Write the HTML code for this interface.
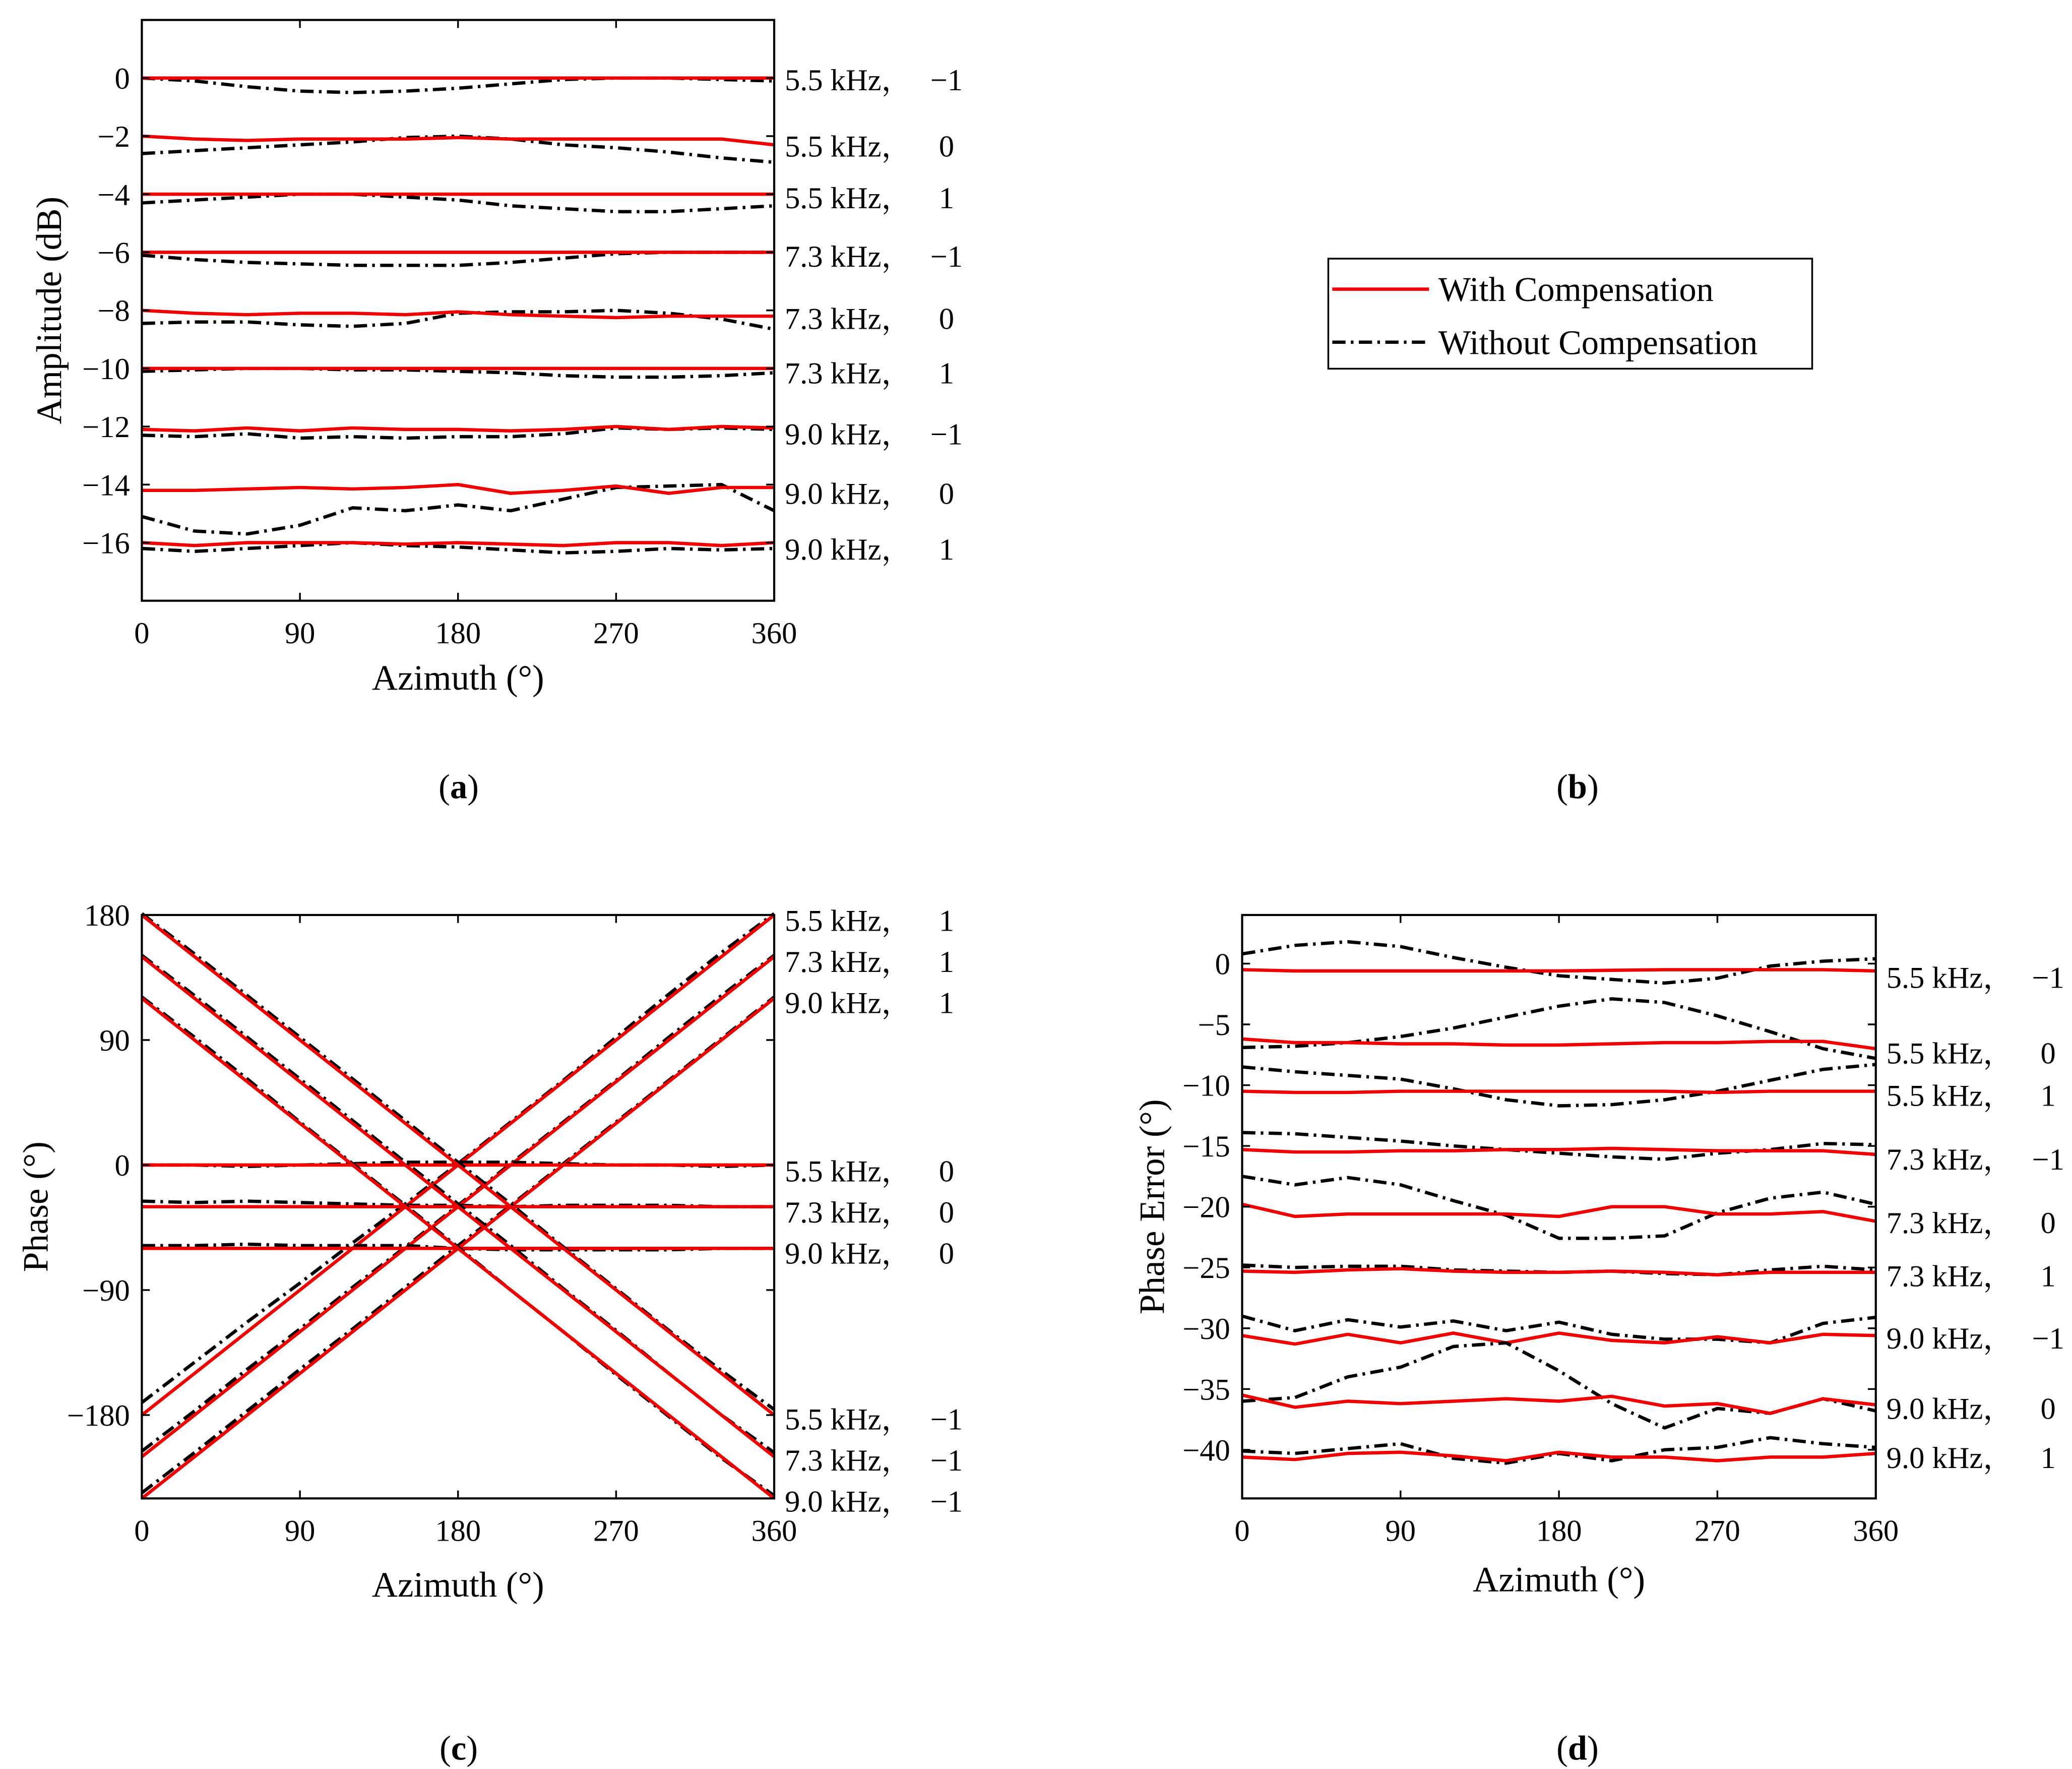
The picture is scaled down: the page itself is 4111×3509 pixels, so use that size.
<!DOCTYPE html>
<html><head><meta charset="utf-8">
<style>
html,body{margin:0;padding:0;background:#fff;}
svg{display:block;}
text{font-family:"Liberation Serif","Noto Serif CJK SC",serif;fill:#000;}
</style></head>
<body>
<svg id="fig" xmlns="http://www.w3.org/2000/svg" width="4111" height="3509" viewBox="0 0 1563 1334">
<rect width="1563" height="1334" fill="#fff"/>
<g>
<rect x="1002" y="195" width="365" height="83" fill="#fff" stroke="#000" stroke-width="1.3"/>
<line x1="1005" y1="218" x2="1078" y2="218" stroke="#e00" stroke-width="2.5"/>
<text x="1085" y="227" font-size="26">With Compensation</text>
<line x1="1005" y1="258" x2="1078" y2="258" stroke="#000" stroke-width="2.5" stroke-dasharray="10 4 2 4"/>
<text x="1085" y="267" font-size="26">Without Compensation</text>
</g>
<text x="346" y="602" font-size="26" text-anchor="middle">(<tspan font-weight="bold">a</tspan>)</text>
<text x="1190" y="602" font-size="26" text-anchor="middle">(<tspan font-weight="bold">b</tspan>)</text>
<text x="346" y="1327" font-size="26" text-anchor="middle">(<tspan font-weight="bold">c</tspan>)</text>
<text x="1190" y="1327" font-size="26" text-anchor="middle">(<tspan font-weight="bold">d</tspan>)</text>
</svg>
<script>
const az=[0,30,60,90,120,150,180,210,240,270,300,330,360];
// Panel (a) amplitude (dB)
const aNames=["5.5 kHz，|−1","5.5 kHz，|0","5.5 kHz，|1","7.3 kHz，|−1","7.3 kHz，|0","7.3 kHz，|1","9.0 kHz，|−1","9.0 kHz，|0","9.0 kHz，|1"];
const aLabelY=[60,110,149,193,240,281,327,372,414];
const aRed=[
[0,0,0,0,0,0,0,0,0,0,0,0,0],
[-2,-2.1,-2.15,-2.1,-2.1,-2.1,-2.05,-2.1,-2.1,-2.1,-2.1,-2.1,-2.3],
[-4,-4,-4,-4,-4,-4,-4,-4,-4,-4,-4,-4,-4],
[-6,-6,-6,-6,-6,-6,-6,-6,-6,-6,-6,-6,-6],
[-8,-8.1,-8.15,-8.1,-8.1,-8.15,-8.05,-8.15,-8.2,-8.25,-8.2,-8.2,-8.2],
[-10,-10,-10,-10,-10,-10,-10,-10,-10,-10,-10,-10,-10],
[-12.1,-12.15,-12.05,-12.15,-12.05,-12.1,-12.1,-12.15,-12.1,-12.0,-12.1,-12.0,-12.05],
[-14.2,-14.2,-14.15,-14.1,-14.15,-14.1,-14.0,-14.3,-14.2,-14.05,-14.3,-14.1,-14.1],
[-16.0,-16.1,-16.0,-16.0,-16.0,-16.05,-16.0,-16.05,-16.1,-16.0,-16.0,-16.1,-16.0]];
const aBlack=[
[0,-0.1,-0.3,-0.45,-0.5,-0.45,-0.35,-0.2,-0.05,0,0,-0.05,-0.1],
[-2.6,-2.5,-2.4,-2.3,-2.2,-2.05,-2.0,-2.1,-2.3,-2.4,-2.55,-2.75,-2.9],
[-4.3,-4.2,-4.1,-4.0,-4.0,-4.1,-4.2,-4.4,-4.5,-4.6,-4.6,-4.5,-4.4],
[-6.1,-6.25,-6.35,-6.4,-6.45,-6.45,-6.45,-6.35,-6.2,-6.05,-6.0,-6.0,-6.0],
[-8.45,-8.4,-8.4,-8.5,-8.55,-8.45,-8.1,-8.05,-8.05,-8.0,-8.1,-8.3,-8.65],
[-10.1,-10.05,-10.0,-10.0,-10.05,-10.05,-10.1,-10.15,-10.25,-10.3,-10.3,-10.25,-10.15],
[-12.3,-12.35,-12.25,-12.4,-12.35,-12.4,-12.35,-12.35,-12.25,-12.05,-12.1,-12.05,-12.1],
[-15.1,-15.6,-15.7,-15.4,-14.8,-14.9,-14.7,-14.9,-14.5,-14.1,-14.05,-14.0,-14.9],
[-16.2,-16.3,-16.2,-16.1,-16.0,-16.1,-16.15,-16.25,-16.35,-16.3,-16.2,-16.25,-16.2]];
const aTicks=[0,-2,-4,-6,-8,-10,-12,-14,-16];
// Panel (c) phase (deg)
const cNames=["5.5 kHz，|1","7.3 kHz，|1","9.0 kHz，|1","5.5 kHz，|0","7.3 kHz，|0","9.0 kHz，|0","5.5 kHz，|−1","7.3 kHz，|−1","9.0 kHz，|−1"];
const cLabelY=[694,725,756,883,914,945,1070,1101,1132];
const cRed=[
[-180,-150,-120,-90,-60,-30,0,30,60,90,120,150,180],
[-210,-180,-150,-120,-90,-60,-30,0,30,60,90,120,150],
[-240,-210,-180,-150,-120,-90,-60,-30,0,30,60,90,120],
[0,0,0,0,0,0,0,0,0,0,0,0,0],
[-30,-30,-30,-30,-30,-30,-30,-30,-30,-30,-30,-30,-30],
[-60,-60,-60,-60,-60,-60,-60,-60,-60,-60,-60,-60,-60],
[180,150,120,90,60,30,0,-30,-60,-90,-120,-150,-180],
[150,120,90,60,30,0,-30,-60,-90,-120,-150,-180,-210],
[120,90,60,30,0,-30,-60,-90,-120,-150,-180,-210,-240]];
const cBlack=[
[-171,-142,-113,-85,-56,-28,1,31,61,92,123,153,181],
[-206,-177,-147,-118,-88,-59,-29,1,31,61,92,122,151],
[-236,-207,-177,-147,-118,-88,-58,-29,1,31,61,91,121],
[0,0,-1,0,1,2,2,2,1,0,0,-1,0],
[-26,-27,-26,-27,-28,-29,-29,-30,-29,-29,-29,-30,-30],
[-58,-58,-57,-58,-58,-58,-60,-61,-61,-61,-61,-60,-60],
[181,152,122,92,62,32,2,-28,-59,-89,-119,-148,-176],
[151,122,92,62,32,2,-28,-58,-89,-119,-150,-180,-207],
[121,92,62,31,1,-29,-59,-90,-120,-151,-181,-211,-238]];
const cTicks=[180,90,0,-90,-180];
// Panel (d) phase error (deg)
const dNames=["5.5 kHz，|−1","5.5 kHz，|0","5.5 kHz，|1","7.3 kHz，|−1","7.3 kHz，|0","7.3 kHz，|1","9.0 kHz，|−1","9.0 kHz，|0","9.0 kHz，|1"];
const dLabelY=[737,794,826,874,922,962,1009,1062,1099];
const dRed=[
[-0.5,-0.6,-0.6,-0.6,-0.6,-0.6,-0.6,-0.55,-0.5,-0.5,-0.5,-0.5,-0.6],
[-6.2,-6.5,-6.5,-6.6,-6.6,-6.7,-6.7,-6.6,-6.5,-6.5,-6.4,-6.4,-7.0],
[-10.5,-10.6,-10.6,-10.5,-10.5,-10.5,-10.5,-10.5,-10.5,-10.6,-10.5,-10.5,-10.5],
[-15.3,-15.5,-15.5,-15.4,-15.4,-15.3,-15.3,-15.2,-15.3,-15.4,-15.4,-15.4,-15.7],
[-19.8,-20.8,-20.6,-20.6,-20.6,-20.6,-20.8,-20.0,-20.0,-20.6,-20.6,-20.4,-21.2],
[-25.3,-25.4,-25.2,-25.1,-25.3,-25.4,-25.4,-25.3,-25.4,-25.6,-25.4,-25.4,-25.4],
[-30.6,-31.3,-30.5,-31.2,-30.4,-31.2,-30.4,-31.0,-31.2,-30.7,-31.2,-30.5,-30.6],
[-35.5,-36.5,-36.0,-36.2,-36.0,-35.8,-36.0,-35.6,-36.4,-36.2,-37.0,-35.8,-36.3],
[-40.6,-40.8,-40.3,-40.2,-40.5,-40.9,-40.2,-40.6,-40.6,-40.9,-40.6,-40.6,-40.3]];
const dBlack=[
[0.8,1.5,1.8,1.4,0.5,-0.3,-1.0,-1.3,-1.6,-1.2,-0.2,0.2,0.4],
[-6.9,-6.8,-6.5,-6.0,-5.3,-4.4,-3.5,-2.9,-3.2,-4.3,-5.6,-7.0,-7.8],
[-8.5,-8.9,-9.2,-9.5,-10.3,-11.2,-11.7,-11.6,-11.2,-10.5,-9.6,-8.7,-8.3],
[-13.9,-14.0,-14.3,-14.6,-15.0,-15.3,-15.6,-15.9,-16.1,-15.6,-15.3,-14.8,-14.9],
[-17.5,-18.2,-17.6,-18.2,-19.5,-20.7,-22.6,-22.6,-22.4,-20.5,-19.3,-18.8,-19.8],
[-24.8,-25.0,-24.9,-24.9,-25.2,-25.3,-25.4,-25.3,-25.5,-25.6,-25.2,-24.9,-25.2],
[-29.0,-30.2,-29.3,-29.9,-29.4,-30.2,-29.5,-30.5,-30.9,-30.9,-31.2,-29.6,-29.1],
[-36.0,-35.7,-34.0,-33.2,-31.5,-31.2,-33.5,-36.2,-38.2,-36.6,-37.0,-35.8,-36.8],
[-40.1,-40.3,-39.9,-39.5,-40.7,-41.1,-40.3,-40.9,-40.0,-39.8,-39.0,-39.5,-39.8]];
const dTicks=[0,-5,-10,-15,-20,-25,-30,-35,-40];
const xTicks=[0,90,180,270,360];

const NS="http://www.w3.org/2000/svg";
const svg=document.getElementById('fig');
function mk(tag,attrs,parent){const e=document.createElementNS(NS,tag);for(const k in attrs)e.setAttribute(k,attrs[k]);(parent||svg).appendChild(e);return e;}
function fmt(v){return v<0?"−"+Math.abs(v):String(v);}

function panel(cfg){
  const g=mk('g',{});
  
  
  const {x0,x1,y0,y1,ymin,ymax}=cfg;
  const sx=v=>x0+(v-0)/360*(x1-x0);
  const sy=v=>y1-(v-ymin)/(ymax-ymin)*(y1-y0);
  for(let i=0;i<cfg.red.length;i++){
    const pb=mk('path',{d:'M'+az.map((a,j)=>sx(a).toFixed(2)+','+sy(cfg.black[i][j]).toFixed(2)).join('L'),fill:'none',stroke:'#000','stroke-width':2.5,'stroke-dasharray':'10 4 2 4'},g);
    
    
    const pr=mk('path',{d:'M'+az.map((a,j)=>sx(a).toFixed(2)+','+sy(cfg.red[i][j]).toFixed(2)).join('L'),fill:'none',stroke:'#e00','stroke-width':2.5},g);
    
    
  }
  const box=mk('rect',{x:x0,y:y0,width:x1-x0,height:y1-y0,fill:'none',stroke:'#000','stroke-width':1.6},g);
  
  
  xTicks.forEach(t=>{
    const x=sx(t);
    mk('line',{x1:x,x2:x,y1:y1,y2:y1-6,stroke:'#000','stroke-width':1.3},g);
    mk('line',{x1:x,x2:x,y1:y0,y2:y0+6,stroke:'#000','stroke-width':1.3},g);
    const tl=mk('text',{x:x,y:y1+32,'font-size':23,'text-anchor':'middle'},g);
    tl.textContent=t;
    
    
  });
  cfg.ticks.forEach(t=>{
    const y=sy(t);
    mk('line',{x1:x0,x2:x0+6,y1:y,y2:y,stroke:'#000','stroke-width':1.3},g);
    mk('line',{x1:x1,x2:x1-6,y1:y,y2:y,stroke:'#000','stroke-width':1.3},g);
    const tl=mk('text',{x:x0-9,y:y+8,'font-size':23,'text-anchor':'end'},g);
    tl.textContent=fmt(t);
    
    
  });
  const xl=mk('text',{x:(x0+x1)/2,y:cfg.xly,'font-size':27,'text-anchor':'middle'},g);
  xl.textContent='Azimuth (°)';
  
  
  const yl=mk('text',{x:0,y:0,'font-size':27,'text-anchor':'middle',transform:`translate(${cfg.ylx},${(y0+y1)/2}) rotate(-90)`},g);
  yl.textContent=cfg.ylabel;
  
  
  cfg.names.forEach((n,i)=>{
    const [f,m]=n.split('|');
    const t1=mk('text',{x:cfg.lx,y:cfg.ly[i]+8,'font-size':23},g);
    t1.textContent=f;
    
    
    const t2=mk('text',{x:cfg.lx+122,y:cfg.ly[i]+8,'font-size':23,'text-anchor':'middle'},g);
    t2.textContent=m;
    
    
  });
}
panel({name:'amplitude-chart',x0:107,x1:584,y0:15,y1:453,ymin:-18,ymax:2,ticks:aTicks,red:aRed,black:aBlack,names:aNames,ly:aLabelY,lx:592,xly:520,ylx:46,ylabel:'Amplitude (dB)'});
panel({name:'phase-chart',x0:107,x1:584,y0:690,y1:1130,ymin:-240,ymax:180,ticks:cTicks,red:cRed,black:cBlack,names:cNames,ly:cLabelY,lx:592,xly:1204,ylx:36,ylabel:'Phase (°)'});
panel({name:'phase-error-chart',x0:937,x1:1415,y0:690,y1:1130,ymin:-44,ymax:4,ticks:dTicks,red:dRed,black:dBlack,names:dNames,ly:dLabelY,lx:1423,xly:1200,ylx:878,ylabel:'Phase Error (°)'});
</script>
</body></html>
